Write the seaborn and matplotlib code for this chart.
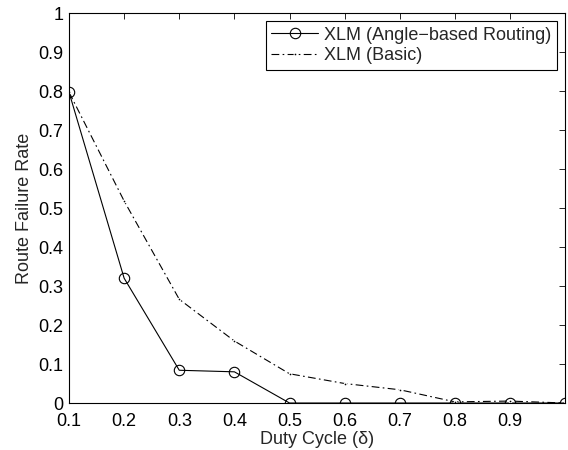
"""Route failure rate vs duty cycle, MATLAB-like look."""

import matplotlib
matplotlib.use("Agg")

import matplotlib.pyplot as plt
import pandas as pd
import seaborn as sns

duty_cycle = [0.1, 0.2, 0.3, 0.4, 0.5, 0.6, 0.7, 0.8, 0.9, 1.0]
angle_based = [0.797, 0.32, 0.084, 0.08, 0.0, 0.0, 0.0, 0.0, 0.0, 0.0]
basic = [0.797, 0.518, 0.266, 0.159, 0.075, 0.050, 0.034, 0.003, 0.005, 0.0]
x_ticks = [0.1, 0.2, 0.3, 0.4, 0.5, 0.6, 0.7, 0.8, 0.9]
y_ticks = [0, 0.1, 0.2, 0.3, 0.4, 0.5, 0.6, 0.7, 0.8, 0.9, 1]

sns.set_style("white")
plt.rcParams["font.family"] = ["Liberation Sans", "DejaVu Sans"]

df_angle = pd.DataFrame({"x": duty_cycle, "y": angle_based})
df_basic = pd.DataFrame({"x": duty_cycle, "y": basic})

fig = plt.figure(figsize=(5.68, 4.5), dpi=100)
ax = fig.add_axes([0.1215, 0.1044, 0.8735, 0.8667])

sns.lineplot(data=df_angle, x="x", y="y", ax=ax, color="black", linewidth=0.8,
             marker="o", markersize=7.5, markerfacecolor="none",
             markeredgecolor="black", markeredgewidth=0.8,
             label="XLM (Angle\u2212based Routing)")
sns.lineplot(data=df_basic, x="x", y="y", ax=ax, color="black", linewidth=0.8,
             linestyle=(0, (7, 3, 1.5, 3)), marker=".", markersize=4,
             label="XLM (Basic)")

ax.set_xlim(0.1, 1.0)
ax.set_ylim(0, 1)
ax.set_xticks(x_ticks)
ax.set_yticks(y_ticks)
ax.set_xticklabels([f"{t:g}" for t in x_ticks])
ax.set_yticklabels([f"{t:g}" for t in y_ticks])
ax.tick_params(direction="in", top=True, right=True, length=4, width=0.6,
               labelsize=13, colors="black")
ax.tick_params(axis="x", pad=7)
ax.tick_params(axis="y", pad=4)
for spine in ax.spines.values():
    spine.set_color("black")
    spine.set_linewidth(0.8)

ax.set_xlabel("Duty Cycle (\u03b4)", fontsize=13, labelpad=1)
ax.set_ylabel("Route Failure Rate", fontsize=13, labelpad=4)

leg = ax.legend(loc="upper right", fontsize=13, frameon=True, fancybox=False,
                edgecolor="black", framealpha=1, handlelength=2.6,
                borderaxespad=0.45, borderpad=0.3, labelspacing=0.2,
                handletextpad=0.35)
leg.get_frame().set_linewidth(0.8)

plt.savefig("out.png", dpi=100)
plt.close()
